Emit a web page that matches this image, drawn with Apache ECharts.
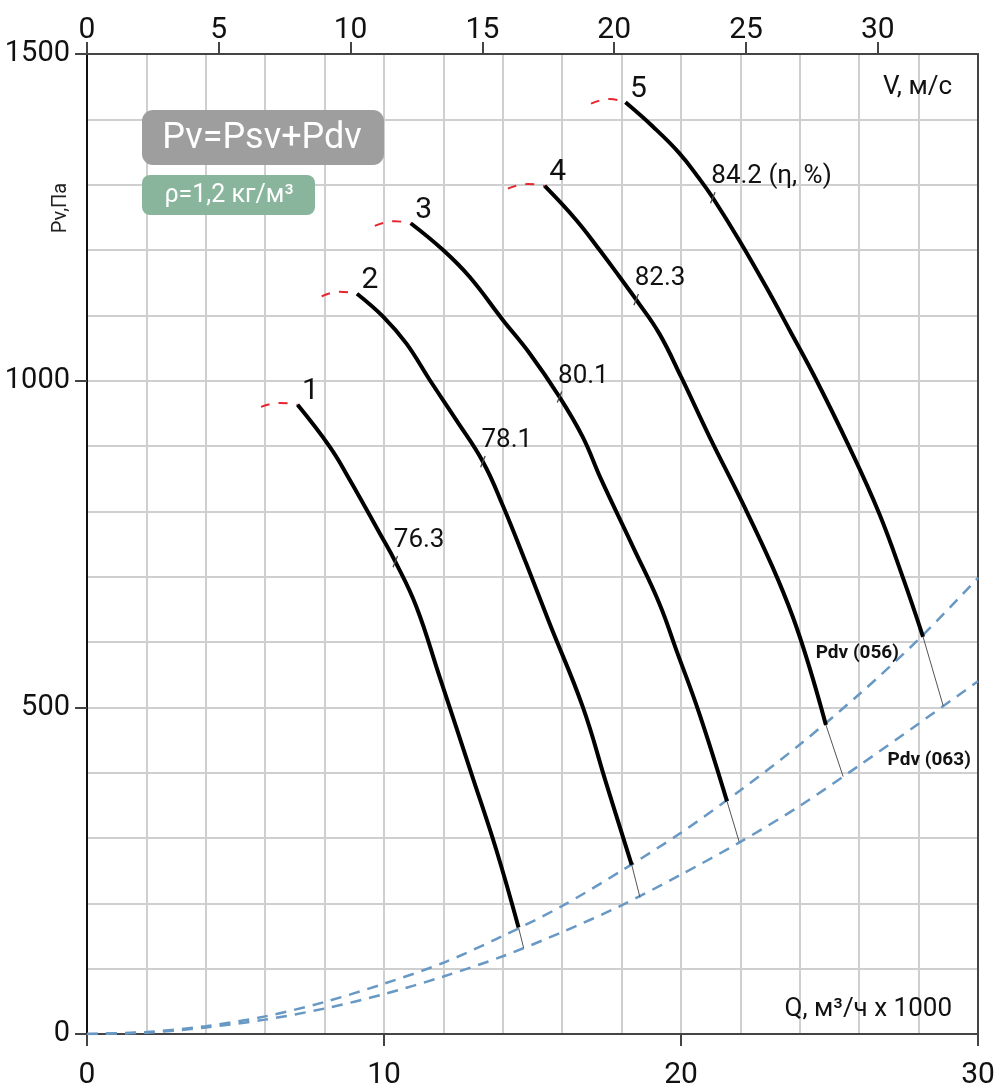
<!DOCTYPE html>
<html>
<head>
<meta charset="utf-8">
<script src="https://cdn.jsdelivr.net/npm/echarts@6/dist/echarts.min.js"></script>
<style>
html,body{margin:0;padding:0;background:#fff;}
#chart{width:996px;height:1086px;}
</style>
</head>
<body>
<div id="chart"></div>
<script>
// ---- data (Q in m³/h x 1000, P in Pa) ----
const bottomTicks = [0, 10, 20, 30];
const leftTicks = [0, 500, 1000, 1500];
const topTicks = [0, 5, 10, 15, 20, 25, 30];   // V, m/s
const vMax = 33.8;

const curve1 = [[7.09,963],[8.17,899],[8.85,848],[9.86,766],[10.38,723],[11.09,654],[11.87,547],[12.94,399],[13.78,282],[14.53,163]];
const curve2 = [[9.09,1133],[9.97,1098],[10.75,1057],[11.54,1001],[12.43,940],[13.33,876],[14.0,809],[14.79,720],[15.57,629],[16.69,501],[17.48,384],[18.34,259]];
const curve3 = [[10.9,1241],[11.99,1200],[12.88,1159],[14.0,1093],[14.9,1042],[15.91,975],[16.69,914],[17.3,850],[18.38,746],[19.27,659],[19.84,588],[20.62,490],[21.55,356]];
const curve4 = [[15.41,1298],[16.47,1246],[17.26,1200],[17.93,1159],[18.49,1124],[19.27,1072],[20.0,1006],[20.96,914],[22.08,812],[23.08,715],[23.76,639],[24.32,562],[24.88,473]];
const curve5 = [[18.13,1426],[19.05,1389],[19.95,1348],[20.62,1309],[21.07,1280],[21.96,1215],[22.86,1144],[23.65,1078],[24.5,1006],[25.66,899],[26.67,797],[27.46,700],[28.15,608]];

const stall1 = [[5.86,960],[6.5,966],[7.09,963]];
const stall2 = [[7.9,1129],[8.5,1136],[9.09,1133]];
const stall3 = [[9.69,1237],[10.36,1244],[10.9,1241]];
const stall4 = [[14.17,1294],[14.85,1301],[15.41,1298]];
const stall5 = [[16.97,1424],[17.6,1431],[18.13,1426]];

const link1 = [[14.53,163],[14.70,132]];
const link2 = [[18.34,259],[18.62,209]];
const link3 = [[21.55,356],[21.96,294]];
const link4 = [[24.88,473],[25.46,394]];
const link5 = [[28.15,608],[28.83,502]];

const pdvQ   = [0, 2, 4, 6, 8, 10, 12, 14, 16, 18, 20, 22, 24, 26, 28, 30];
const pdv056 = [0, 3, 12, 27, 49, 77, 109, 150, 196, 250, 308, 373, 443, 520, 604, 698];
const pdv063 = [0, 2, 10, 22, 39, 61, 88, 119, 156, 197, 244, 294, 349, 411, 475, 540];

const curveNames = ['1', '2', '3', '4', '5'];
const etaPoints = [[10.38,723],[13.33,876],[15.91,975],[18.49,1124],[21.07,1280]];
const etaLabels = ['76.3', '78.1', '80.1', '82.3', '84.2 (η, %)'];
const pdvLabelPoints = [[24.52,583],[26.94,419]];
const pdvLabelTexts = ['Pdv (056)', 'Pdv (063)'];

// ---- chart ----
const FONT = 'Roboto, "Liberation Sans", sans-serif';
const curves = [curve1, curve2, curve3, curve4, curve5];
const stalls = [stall1, stall2, stall3, stall4, stall5];
const links = [link1, link2, link3, link4, link5];

const series = [];
series.push({
  type: 'line', showSymbol: false, smooth: 0.3, z: 3,
  data: pdvQ.map((q, i) => [q, pdv056[i]]),
  lineStyle: { color: '#6898c4', width: 2.5, type: [11, 8] }
});
series.push({
  type: 'line', showSymbol: false, smooth: 0.3, z: 3,
  data: pdvQ.map((q, i) => [q, pdv063[i]]),
  lineStyle: { color: '#6898c4', width: 2.5, type: [11, 8] }
});
links.forEach(l => series.push({
  type: 'line', showSymbol: false, z: 4, data: l,
  lineStyle: { color: '#555', width: 1 }
}));
stalls.forEach(s => series.push({
  type: 'line', showSymbol: false, smooth: 0.5, z: 4, data: s,
  lineStyle: { color: '#e8252e', width: 2, type: [9, 9] }
}));
curves.forEach(c => series.push({
  type: 'line', showSymbol: false, smooth: 0.42, z: 5, data: c,
  lineStyle: { color: '#000', width: 4, cap: 'butt', join: 'round' }
}));
// eta tick marks
series.push({
  type: 'scatter', z: 6, symbol: 'rect', symbolSize: [1.3, 12], symbolRotate: -22,
  itemStyle: { color: '#444', opacity: 1 },
  data: etaPoints
});
const hidden = { color: 'rgba(0,0,0,0)', opacity: 1 };
const lbl = { show: true, position: 'right', distance: 0, opacity: 1, color: '#111',
  textBorderWidth: 0, fontFamily: FONT, formatter: p => p.name };
// eta labels
series.push({
  type: 'scatter', z: 7, symbolSize: 1, itemStyle: hidden,
  data: etaPoints.map((p, i) => ({ value: p, name: etaLabels[i] })),
  label: Object.assign({}, lbl, { offset: [-2, -21], fontSize: 26 })
});
// curve number labels
series.push({
  type: 'scatter', z: 7, symbolSize: 1, itemStyle: hidden,
  data: curves.map((c, i) => ({ value: c[0], name: curveNames[i] })),
  label: Object.assign({}, lbl, { offset: [4, -13], fontSize: 30 })
});
// Pdv labels
series.push({
  type: 'scatter', z: 7, symbolSize: 1, itemStyle: hidden,
  data: pdvLabelPoints.map((p, i) => ({ value: p, name: pdvLabelTexts[i] })),
  label: Object.assign({}, lbl, { offset: [0, 0], fontSize: 19, fontWeight: 'bold' })
});

const gridCol = '#cfcfcf';
const option = {
  animation: false,
  backgroundColor: '#fff',
  grid: { left: 87, right: 18, top: 54, bottom: 52, containLabel: false, outerBoundsMode: 'none' },
  xAxis: [
    {
      type: 'value', position: 'bottom', min: 0, max: 30, interval: 10,
      axisLine: { show: true, onZero: false, lineStyle: { color: '#444', width: 2 } },
      axisTick: { show: true, length: 12, lineStyle: { color: '#444', width: 2 } },
      axisLabel: { margin: 26, color: '#111', fontFamily: FONT, fontSize: 30,
        customValues: bottomTicks, formatter: v => String(v) },
      splitLine: { show: true, lineStyle: { color: gridCol, width: 2 } },
      minorTick: { show: false, splitNumber: 5 },
      minorSplitLine: { show: true, lineStyle: { color: gridCol, width: 2 } }
    },
    {
      type: 'value', position: 'top', min: 0, max: vMax, interval: 5,
      axisLine: { show: true, onZero: false, lineStyle: { color: '#444', width: 2 } },
      axisTick: { show: true, length: 12, lineStyle: { color: '#444', width: 2 }, customValues: topTicks },
      axisLabel: { margin: 9, color: '#111', fontFamily: FONT, fontSize: 30, customValues: topTicks,
        formatter: v => String(v) },
      splitLine: { show: false }
    }
  ],
  yAxis: [
    {
      type: 'value', position: 'left', min: 0, max: 1500, interval: 500,
      axisLine: { show: true, onZero: false, lineStyle: { color: '#111', width: 2 } },
      axisTick: { show: true, length: 12, lineStyle: { color: '#444', width: 2 } },
      axisLabel: { margin: 17, color: '#111', fontFamily: FONT, fontSize: 29, padding: [9, 0, 0, 0],
        customValues: leftTicks, formatter: v => String(v) },
      splitLine: { show: true, lineStyle: { color: gridCol, width: 2 } },
      minorTick: { show: false, splitNumber: 5 },
      minorSplitLine: { show: true, lineStyle: { color: gridCol, width: 2 } }
    },
    {
      type: 'value', position: 'right', min: 0, max: 1500, interval: 500,
      axisLine: { show: true, onZero: false, lineStyle: { color: '#444', width: 2 } },
      axisTick: { show: false }, axisLabel: { show: false }, splitLine: { show: false }
    }
  ],
  graphic: [
    { type: 'rect', left: 142, top: 110, shape: { width: 242, height: 55, r: 11 },
      style: { fill: '#9e9e9e' }, z: 10 },
    { type: 'text', x: 262, y: 139, z: 11,
      style: { text: 'Pv=Psv+Pdv', fill: '#fff', font: '36px ' + FONT, textAlign: 'center', textVerticalAlign: 'middle' } },
    { type: 'rect', left: 142, top: 175, shape: { width: 173, height: 40, r: 8 },
      style: { fill: '#88b59c' }, z: 10 },
    { type: 'text', x: 229, y: 196, z: 11,
      style: { text: 'ρ=1,2 кг/м³', fill: '#fff', font: '25px ' + FONT, textAlign: 'center', textVerticalAlign: 'middle' } },
    { type: 'text', x: 61, y: 208, rotation: Math.PI / 2, z: 11,
      style: { text: 'Pv,Па', fill: '#222', font: '20px ' + FONT, textAlign: 'center', textVerticalAlign: 'middle' } },
    { type: 'text', x: 952, y: 87, z: 11,
      style: { text: 'V, м/с', fill: '#111', font: '26px ' + FONT, textAlign: 'right', textVerticalAlign: 'middle' } },
    { type: 'text', x: 952, y: 1009, z: 11,
      style: { text: 'Q, м³/ч x 1000', fill: '#111', font: '26px ' + FONT, textAlign: 'right', textVerticalAlign: 'middle' } }
  ],
  series: series
};

const chart = echarts.init(document.getElementById('chart'), null, { renderer: 'canvas' });
chart.setOption(option);
</script>
</body>
</html>
